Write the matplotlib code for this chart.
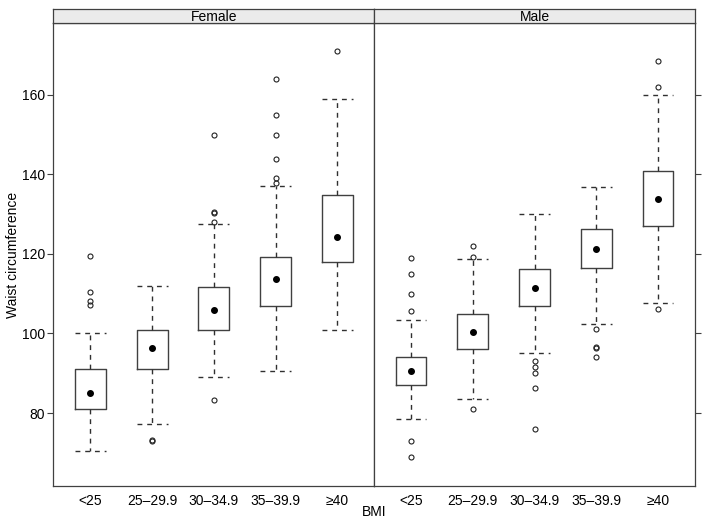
import matplotlib
matplotlib.use("Agg")
import matplotlib.pyplot as plt

plt.rcParams['font.family'] = ['Liberation Sans', 'DejaVu Sans']

# BMI groups and panel names
bmi_groups = ["<25", "25\u201329.9", "30\u201334.9", "35\u201339.9", "\u226540"]
panels = ["Female", "Male"]

# Female box stats
f_whislo = [70.5, 77.2, 89.0, 90.5, 100.8]
f_q1 = [81.0, 91.2, 101.0, 107.0, 117.9]
f_med = [85.0, 96.3, 106.0, 113.7, 124.3]
f_q3 = [91.0, 101.0, 111.7, 119.1, 134.8]
f_whishi = [100.0, 112.0, 127.4, 137.0, 158.9]
f_fliers = [
    [107.1, 108.1, 110.4, 119.4],
    [73.0, 73.3],
    [83.3, 127.9, 130.2, 130.6, 149.9],
    [137.9, 139.0, 143.9, 149.9, 154.9, 163.9],
    [170.9],
]

# Male box stats
m_whislo = [78.5, 83.6, 95.0, 102.5, 107.6]
m_q1 = [87.0, 96.0, 107.0, 116.5, 127.1]
m_med = [90.6, 100.5, 111.5, 121.1, 133.7]
m_q3 = [94.0, 105.0, 116.2, 126.3, 140.9]
m_whishi = [103.4, 118.7, 130.0, 136.9, 159.9]
m_fliers = [
    [68.9, 73.0, 105.7, 110.0, 114.9, 118.9],
    [81.0, 119.1, 122.0],
    [76.1, 86.4, 90.1, 91.6, 93.1],
    [94.2, 96.4, 96.6, 101.2],
    [106.2, 161.9, 168.4],
]

yticks = [80, 100, 120, 140, 160]

frame_col = "#404040"
W, H = 710, 526
fig = plt.figure(figsize=(W / 100, H / 100), dpi=100)

def make_stats(lo, q1, med, q3, hi, fl):
    out = []
    for i in range(len(lo)):
        out.append(dict(whislo=lo[i], q1=q1[i], med=med[i], q3=q3[i],
                        whishi=hi[i], mean=med[i], fliers=fl[i], label=bmi_groups[i]))
    return out

data = [
    make_stats(f_whislo, f_q1, f_med, f_q3, f_whishi, f_fliers),
    make_stats(m_whislo, m_q1, m_med, m_q3, m_whishi, m_fliers),
]

# panel placement in pixels (lattice-like layout)
px_left = [53.3, 374.0]
px_w = 321.0
top_px, bot_px = 23.3, 486.0
strip_h = 14.5

for k, name in enumerate(panels):
    ax = fig.add_axes([px_left[k] / W, 1 - bot_px / H, px_w / W, (bot_px - top_px) / H])
    dash = dict(color="#303030", linewidth=1.0, linestyle=(0, (3.5, 3.5)))
    ax.bxp(data[k], positions=range(1, 6), widths=0.5, capwidths=0.5,
           showmeans=True, meanline=False,
           boxprops=dict(color=frame_col, linewidth=1.0),
           whiskerprops=dash, capprops=dash,
           medianprops=dict(linewidth=0),
           meanprops=dict(marker='o', markerfacecolor='black', markeredgecolor='black',
                          markersize=4.0),
           flierprops=dict(marker='o', markerfacecolor='none', markeredgecolor='#222222',
                           markersize=3.6, markeredgewidth=0.8))
    ax.set_xlim(0.4, 5.6)
    ax.set_ylim(61.7, 177.9)
    ax.set_xticks(range(1, 6))
    ax.set_xticklabels(bmi_groups, fontsize=10)
    ax.tick_params(axis='x', length=0, pad=6)
    ax.set_yticks(yticks)
    if k == 0:
        ax.tick_params(axis='y', left=True, right=False, labelleft=True, length=4,
                       width=0.8, color=frame_col, labelsize=10, pad=2)
    else:
        ax.tick_params(axis='y', left=False, right=True, labelleft=False,
                       labelright=False, length=4, width=0.8, color=frame_col)
    for s in ax.spines.values():
        s.set_color(frame_col)
        s.set_linewidth(0.9)

    # strip on top
    sax = fig.add_axes([px_left[k] / W, 1 - top_px / H, px_w / W, strip_h / H])
    sax.set_facecolor('#ebebeb')
    sax.set_xticks([])
    sax.set_yticks([])
    for s in sax.spines.values():
        s.set_color(frame_col)
        s.set_linewidth(0.9)
    sax.text(0.5, 0.45, name, ha='center', va='center', fontsize=10,
             transform=sax.transAxes)

fig.text(374 / W, 1 - 512 / H, "BMI", ha='center', va='center', fontsize=10)
fig.text(13 / W, 1 - 255 / H, "Waist circumference", ha='center', va='center',
         rotation=90, fontsize=10)

fig.savefig("out.png", dpi=100)
